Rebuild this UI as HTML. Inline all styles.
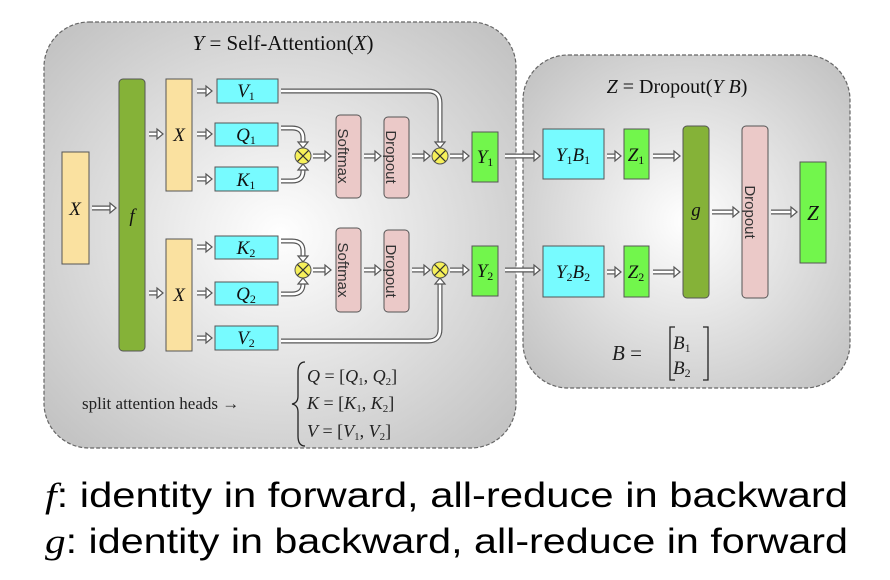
<!DOCTYPE html>
<html><head><meta charset="utf-8"><style>
html,body{margin:0;padding:0;background:#fff;width:890px;height:580px;overflow:hidden}
.sr{font-family:"Liberation Serif",serif}
.sa{font-family:"Liberation Sans",sans-serif}
.m{font-style:italic}
</style></head><body>
<svg id="s" width="890" height="580" viewBox="0 0 890 580" xmlns="http://www.w3.org/2000/svg">
<defs>
<radialGradient id="bg" cx="50%" cy="50%" r="65%">
<stop offset="0" stop-color="#ffffff"/><stop offset="1" stop-color="#c4c4c4"/>
</radialGradient>
</defs>
<rect x="44" y="22" width="472" height="426" rx="45" fill="url(#bg)" stroke="#666" stroke-dasharray="4,2" stroke-width="1.2"/>
<rect x="523" y="55" width="327" height="333" rx="45" fill="url(#bg)" stroke="#666" stroke-dasharray="4,2" stroke-width="1.2"/>
<g id="arrows"></g>
<g stroke="#555" stroke-width="1">
<rect x="62" y="152" width="27" height="112" fill="#fae1a0"/>
<rect x="119" y="79" width="26" height="272" rx="4" fill="#85b238"/>
<rect x="166" y="79" width="26" height="112" fill="#fae1a0"/>
<rect x="166" y="239" width="26" height="112" fill="#fae1a0"/>
<rect x="217" y="79" width="61" height="24" fill="#77fbff"/>
<rect x="215" y="123" width="63" height="23" fill="#77fbff"/>
<rect x="215" y="167" width="63" height="24" fill="#77fbff"/>
<rect x="215" y="236" width="63" height="23" fill="#77fbff"/>
<rect x="215" y="282" width="63" height="23" fill="#77fbff"/>
<rect x="215" y="326" width="63" height="24" fill="#77fbff"/>
<rect x="336" y="115" width="25" height="83" rx="4" fill="#ebc9c8"/>
<rect x="384" y="117" width="25" height="81" rx="4" fill="#ebc9c8"/>
<rect x="336" y="228" width="25" height="84" rx="4" fill="#ebc9c8"/>
<rect x="384" y="230" width="25" height="82" rx="4" fill="#ebc9c8"/>
<rect x="472" y="132" width="26" height="50" fill="#72f64c"/>
<rect x="472" y="246" width="26" height="50" fill="#72f64c"/>
<rect x="543" y="129" width="61" height="50" fill="#77fbff"/>
<rect x="543" y="246" width="61" height="51" fill="#77fbff"/>
<rect x="624" y="129" width="25" height="50" fill="#72f64c"/>
<rect x="624" y="246" width="25" height="51" fill="#72f64c"/>
<rect x="683" y="126" width="26" height="172" rx="4" fill="#85b238"/>
<rect x="742" y="126" width="26" height="172" rx="4" fill="#ebc9c8"/>
<rect x="800" y="162" width="26" height="101" fill="#72f64c"/>
</g>
<g id="ot"></g>
<g class="sr" font-size="19" fill="#111" text-anchor="middle">
<text class="sr" x="283" y="50" font-size="21"><tspan class="m">Y</tspan> = Self-Attention(<tspan class="m">X</tspan>)</text>
<text class="sr" x="677" y="93" font-size="20"><tspan class="m">Z</tspan> = Dropout(<tspan class="m">Y B</tspan>)</text>
<text x="75" y="215" class="sr m">X</text>
<text x="132" y="222" class="sr m">f</text>
<text x="179" y="141" class="sr m">X</text>
<text x="179" y="301" class="sr m">X</text>
<text x="246" y="97" class="sr m">V<tspan font-size="12" font-style="normal" dy="3">1</tspan></text>
<text x="246" y="141" class="sr m">Q<tspan font-size="12" font-style="normal" dy="3">1</tspan></text>
<text x="246" y="186" class="sr m">K<tspan font-size="12" font-style="normal" dy="3">1</tspan></text>
<text x="246" y="254" class="sr m">K<tspan font-size="12" font-style="normal" dy="3">2</tspan></text>
<text x="246" y="300" class="sr m">Q<tspan font-size="12" font-style="normal" dy="3">2</tspan></text>
<text x="246" y="344" class="sr m">V<tspan font-size="12" font-style="normal" dy="3">2</tspan></text>
<text x="485" y="163" class="sr m">Y<tspan font-size="12" font-style="normal" dy="3">1</tspan></text>
<text x="485" y="277" class="sr m">Y<tspan font-size="12" font-style="normal" dy="3">2</tspan></text>
<text x="573" y="161" class="sr m">Y<tspan font-size="12" font-style="normal" dy="3">1</tspan><tspan dy="-3">B</tspan><tspan font-size="12" font-style="normal" dy="3">1</tspan></text>
<text x="573" y="278" class="sr m">Y<tspan font-size="12" font-style="normal" dy="3">2</tspan><tspan dy="-3">B</tspan><tspan font-size="12" font-style="normal" dy="3">2</tspan></text>
<text x="636" y="161" class="sr m">Z<tspan font-size="12" font-style="normal" dy="3">1</tspan></text>
<text x="636" y="278" class="sr m">Z<tspan font-size="12" font-style="normal" dy="3">2</tspan></text>
<text x="696" y="216" class="sr m">g</text>
<text x="813" y="220" class="sr m" font-size="21">Z</text>
</g>
<g font-size="15" fill="#333" text-anchor="middle">
<text class="sa" transform="translate(343,156) rotate(90)" dy="5">Softmax</text>
<text class="sa" transform="translate(391,157) rotate(90)" dy="5">Dropout</text>
<text class="sa" transform="translate(343,270) rotate(90)" dy="5">Softmax</text>
<text class="sa" transform="translate(391,271) rotate(90)" dy="5">Dropout</text>
<text class="sa" transform="translate(750,212) rotate(90)" dy="5">Dropout</text>
</g>
<g fill="#222" font-size="17">
<text class="sr" x="82" y="409">split attention heads →</text>
<path d="M305,362 Q298,362 298,372 L298,396 Q298,403 292,404 Q298,405 298,412 L298,436 Q298,446 305,446" fill="none" stroke="#222" stroke-width="1.3"/>
<text class="sr" x="307" y="382" font-size="18"><tspan class="m">Q</tspan> = [<tspan class="m">Q</tspan><tspan font-size="11" dy="3">1</tspan><tspan dy="-3">, </tspan><tspan class="m">Q</tspan><tspan font-size="11" dy="3">2</tspan><tspan dy="-3">]</tspan></text>
<text class="sr" x="307" y="409" font-size="18"><tspan class="m">K</tspan> = [<tspan class="m">K</tspan><tspan font-size="11" dy="3">1</tspan><tspan dy="-3">, </tspan><tspan class="m">K</tspan><tspan font-size="11" dy="3">2</tspan><tspan dy="-3">]</tspan></text>
<text class="sr" x="307" y="437" font-size="18"><tspan class="m">V</tspan> = [<tspan class="m">V</tspan><tspan font-size="11" dy="3">1</tspan><tspan dy="-3">, </tspan><tspan class="m">V</tspan><tspan font-size="11" dy="3">2</tspan><tspan dy="-3">]</tspan></text>
<text class="sr" x="612" y="360" font-size="21"><tspan class="m">B</tspan> =</text>
<path d="M675,327 L670,327 L670,380 L675,380 M703,327 L708,327 L708,380 L703,380" fill="none" stroke="#222" stroke-width="1.3"/>
<text class="sr" x="673" y="349" font-size="19"><tspan class="m">B</tspan><tspan font-size="12" dy="3">1</tspan></text>
<text class="sr" x="673" y="374" font-size="19"><tspan class="m">B</tspan><tspan font-size="12" dy="3">2</tspan></text>
</g>
<g font-size="35" fill="#000">
<text class="sa" x="45" y="507" textLength="803" lengthAdjust="spacingAndGlyphs"><tspan class="sr m">f</tspan>: identity in forward, all-reduce in backward</text>
<text class="sa" x="45" y="553" textLength="803" lengthAdjust="spacingAndGlyphs"><tspan class="sr m">g</tspan>: identity in backward, all-reduce in forward</text>
</g>
</svg>
<script>
var NS="http://www.w3.org/2000/svg",g=document.getElementById("arrows");
function el(n,a){var e=document.createElementNS(NS,n);for(var k in a)e.setAttribute(k,a[k]);g.appendChild(e);return e;}
function arr(d,tx,ty,dir){
 el("path",{d:d,fill:"none",stroke:"#555","stroke-width":5});
 el("path",{d:d,fill:"none",stroke:"#fff","stroke-width":2.6});
 var p;
 if(dir=="r")p=[[tx,ty],[tx-6,ty-5],[tx-6,ty+5]];
 else if(dir=="d")p=[[tx,ty],[tx-5,ty-6],[tx+5,ty-6]];
 else p=[[tx,ty],[tx-5,ty+6],[tx+5,ty+6]];
 el("polygon",{points:p.map(function(q){return q.join(",")}).join(" "),fill:"#fff",stroke:"#555","stroke-width":1.2});
}
function h(x1,x2,y){arr("M"+x1+","+y+" L"+(x2-5)+","+y,x2,y,"r");}
h(92,116,208);
h(149,163,134);h(149,163,293);
h(197,212,91);h(197,212,134);h(197,212,179);
h(197,212,247);h(197,212,293);h(197,212,338);
h(313,331,156);h(364,381,156);h(412,430,156);h(450,469,156);
h(313,331,270);h(364,381,270);h(412,430,270);h(450,469,270);
h(505,540,156);h(505,540,270);
h(607,621,156);h(607,621,272);
h(653,680,156);h(653,680,272);
h(712,739,212);h(771,797,212);
arr("M281,128 L292,128 Q303,128 303,138 L303,142",303,148,"d");
arr("M281,181 L292,181 Q303,181 303,171 L303,170",303,164,"u");
arr("M281,241 L292,241 Q303,241 303,251 L303,256",303,262,"d");
arr("M281,294 L292,294 Q303,294 303,284 L303,284",303,278,"u");
arr("M281,91 L428,91 Q440,91 440,103 L440,142",440,148,"d");
arr("M281,341 L428,341 Q440,341 440,329 L440,284",440,278,"u");
var o=document.getElementById("ot");
[[303,156],[440,156],[303,270],[440,270]].forEach(function(c){
 var x=c[0],y=c[1],r=8;
 var a=document.createElementNS(NS,"circle");a.setAttribute("cx",x);a.setAttribute("cy",y);a.setAttribute("r",r);a.setAttribute("fill","#f6f05a");a.setAttribute("stroke","#555");o.appendChild(a);
 var d=r*0.7,p=document.createElementNS(NS,"path");p.setAttribute("d","M"+(x-d)+","+(y-d)+"L"+(x+d)+","+(y+d)+"M"+(x+d)+","+(y-d)+"L"+(x-d)+","+(y+d));p.setAttribute("stroke","#333");p.setAttribute("stroke-width","1.2");o.appendChild(p);
});
</script>
</body></html>
